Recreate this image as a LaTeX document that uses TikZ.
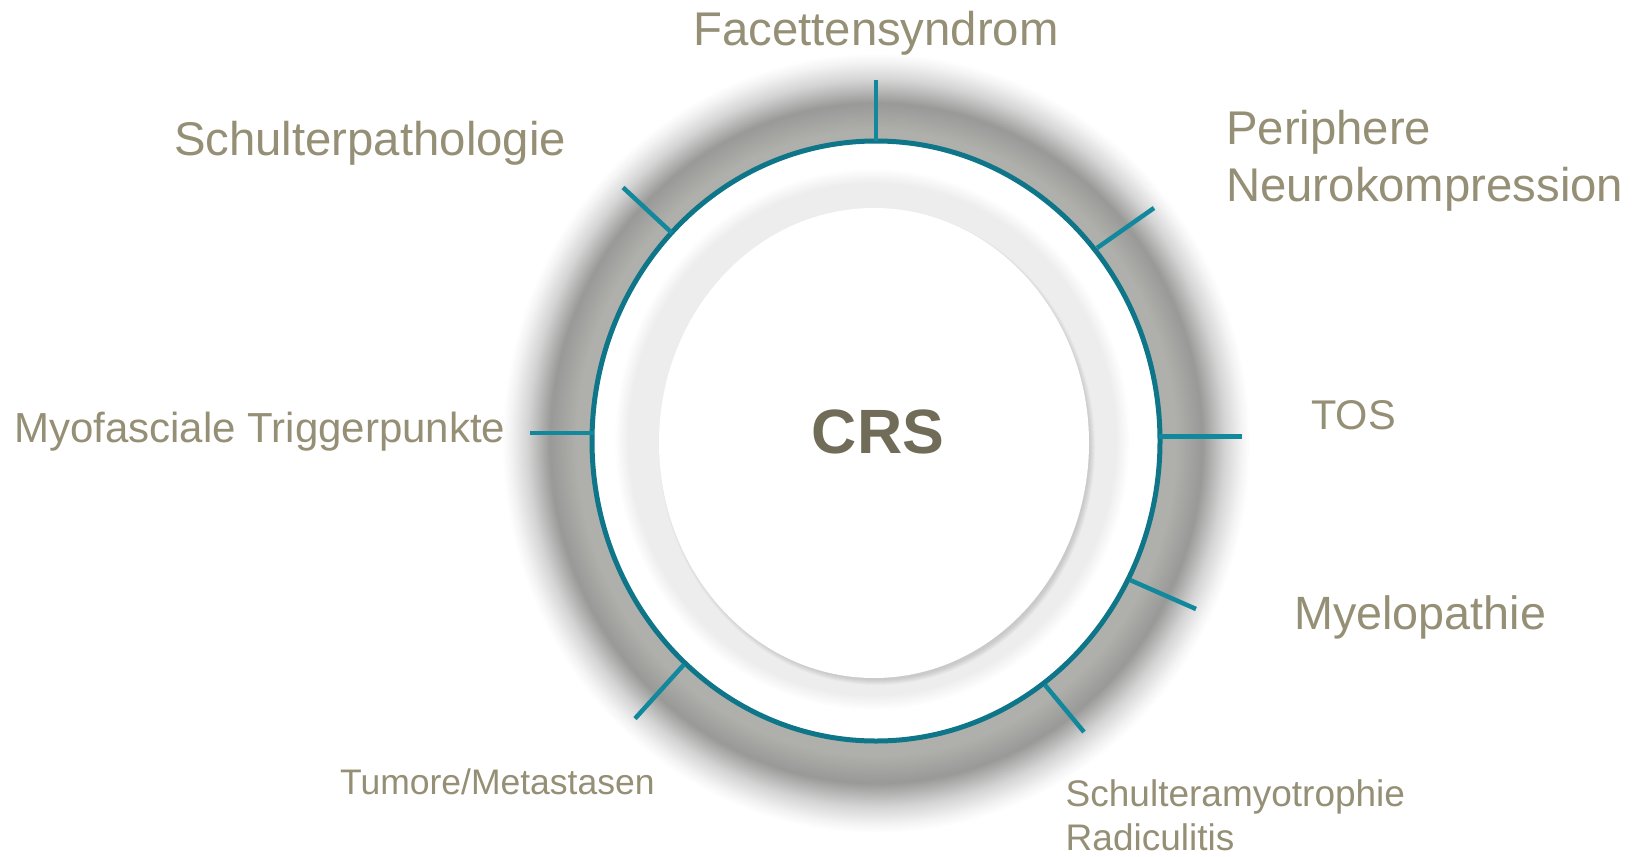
\documentclass[tikz,border=0pt]{standalone}
\usepackage{fontspec}
\setmainfont{Liberation Sans}
\definecolor{halomid}{HTML}{AFB0AB}
\definecolor{halodark}{HTML}{999998}
\definecolor{halofade}{HTML}{D4D4D4}
\definecolor{halolight}{HTML}{F3F3F3}
\definecolor{diskgray}{HTML}{EDEDED}
\definecolor{ringteal}{HTML}{0F7689}
\definecolor{spoketeal}{HTML}{12889C}
\definecolor{labelcol}{HTML}{958F75}
\definecolor{crscol}{HTML}{706C58}
\pgfdeclareradialshading{halo}{\pgfpoint{0bp}{0bp}}{color(0bp)=(halomid); color(20.0bp)=(halomid); color(21.8bp)=(halodark); color(23.3bp)=(halofade); color(24.4bp)=(halolight); color(25bp)=(white); color(50bp)=(white)}
\pgfdeclareradialshading{disk}{\pgfpoint{0bp}{0bp}}{color(0bp)=(diskgray); color(23.6bp)=(diskgray); color(25bp)=(white); color(50bp)=(white)}
\begin{document}
\begin{tikzpicture}[x=1bp,y=-1bp,
  spoke/.style={draw=spoketeal, line width=4.5bp},
  lbl/.style={text=labelcol, inner sep=0pt, anchor=base west, align=left},
  big/.style={font=\fontsize{47.3bp}{57bp}\selectfont},
  mid/.style={font=\fontsize{42bp}{50bp}\selectfont}]
\fill[white] (0,0) rectangle (1633,856);
\useasboundingbox (0,0) rectangle (1633,856);
% halo
\shade[shading=halo] (876,443) ellipse [x radius=374, y radius=390];
% white ring
\fill[white] (876,441) ellipse [x radius=284, y radius=300];
% light gray disk
\shade[shading=disk] (872,439) ellipse [x radius=258, y radius=271];
% shadow of inner disk
\foreach \i in {1,...,6}
  \fill[black,opacity=0.022] (877,447) ellipse [x radius=212+\i, y radius=232+\i];
\fill[white] (874,443) ellipse [x radius=215, y radius=235];
% teal ring
\draw[ringteal, line width=5bp] (876,441) ellipse [x radius=284, y radius=300];
% spoke ends
\coordinate (t1a) at (876,141); \coordinate (t1b) at (876,80);
\coordinate (t2a) at (672,233); \coordinate (t2b) at (623,187.5);
\coordinate (t3a) at (1097,248); \coordinate (t3b) at (1154,208);
\coordinate (t4a) at (594,433); \coordinate (t4b) at (530,433);
\coordinate (t5a) at (1159,436.5); \coordinate (t5b) at (1241.5,436.5);
\coordinate (t6a) at (1130,580); \coordinate (t6b) at (1196,609);
\coordinate (t7a) at (1045,685); \coordinate (t7b) at (1084,732);
\coordinate (t8a) at (684,664.5); \coordinate (t8b) at (635,718.6);
\foreach \k in {1,...,8} \draw[spoke] (t\k a) -- (t\k b);
% labels
\node[lbl, big, anchor=base] (facet) at (876,45) {Facettensyndrom};
\node[lbl, big] (schulter) at (174,155) {Schulterpathologie};
\node[lbl, big] (periph) at (1226,201) {Periphere\\Neurokompression};
\node[lbl, mid] (myo) at (14,442) {Myofasciale Triggerpunkte};
\node[lbl, font=\fontsize{41.5bp}{50bp}\selectfont] (tos) at (1311,429) {TOS};
\node[lbl, font=\fontsize{46.7bp}{56bp}\selectfont] (myel) at (1294,629) {Myelopathie};
\node[lbl, font=\fontsize{35.5bp}{43bp}\selectfont] (tumor) at (340,794) {Tumore/Metastasen};
\node[lbl, font=\fontsize{37bp}{44bp}\selectfont] (amyo) at (1065.5,850) {Schulteramyotrophie\\Radiculitis};
\node[text=crscol, inner sep=0pt, anchor=base, font=\bfseries\fontsize{62.6bp}{70bp}\selectfont] (crs) at (878,453) {CRS};
\end{tikzpicture}
\end{document}
